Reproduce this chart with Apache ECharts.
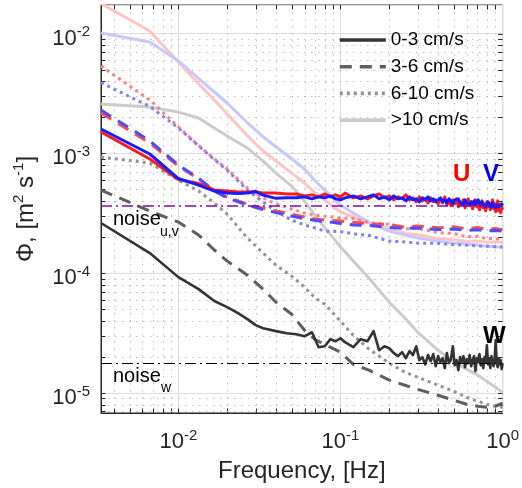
<!DOCTYPE html>
<html>
<head>
<meta charset="utf-8">
<script src="https://cdn.jsdelivr.net/npm/echarts@6/dist/echarts.min.js"></script>
<style>
  html, body { margin: 0; padding: 0; background: #ffffff; }
  #chart { width: 522px; height: 488px; }
</style>
</head>
<body>
<div id="chart"></div>
<script>
// Velocity spectra binned by current speed. Frequencies are bin indices times DF.
const DF = 1 / 300;           // frequency resolution [Hz]
const X_MIN = 1 / 300, X_MAX = 1;
const Y_MIN = 6.8e-6, Y_MAX = 1.73e-2;

// bins used for the smooth (averaged) spectra
const binsCoarse = [1, 2, 3, 4, 5, 6, 8, 10, 12, 15, 18, 21, 24, 30, 36, 45, 60, 75, 90, 120, 150, 180, 210, 240, 270, 300];
// bins used for the slow-flow spectra, which stay noisy up to 1 Hz
const binsFine = [1, 2, 3, 4, 5, 6, 7, 8, 9, 10, 12, 14, 16, 18, 20, 22, 24, 26, 28, 30,
  32, 36, 40, 44, 48, 52, 56, 60, 64, 68, 72, 76, 80, 84, 88, 92, 96, 100, 104, 108,
  112, 116, 120, 124, 128, 132, 136, 140, 144, 148, 152, 156, 160, 164, 168, 172, 176, 180, 184, 188,
  192, 196, 200, 204, 208, 212, 216, 220, 224, 228, 232, 236, 240, 244, 248, 252, 256, 260, 264, 268,
  272, 276, 280, 284, 288, 292, 296, 300];

// 0-3 cm/s (fine bins)
const u03 = [1.507e-3, 8.96e-4, 6.04e-4, 5.59e-4, 4.95e-4, 4.84e-4, 4.76e-4, 4.76e-4, 4.76e-4, 4.66e-4,
  4.66e-4, 4.58e-4, 4.58e-4, 4.41e-4, 4.50e-4, 4.33e-4, 4.58e-4, 4.33e-4, 4.50e-4, 4.33e-4,
  4.66e-4, 4.25e-4, 4.41e-4, 4.17e-4, 4.41e-4, 4.58e-4, 4.25e-4, 4.41e-4, 4.09e-4, 4.33e-4,
  4.17e-4, 4.50e-4, 4.09e-4, 4.25e-4, 3.94e-4, 4.33e-4, 4.01e-4, 4.17e-4, 3.86e-4, 4.25e-4,
  3.94e-4, 4.09e-4, 3.79e-4, 4.17e-4, 3.86e-4, 4.33e-4, 3.72e-4, 4.01e-4, 3.65e-4, 4.09e-4,
  3.79e-4, 4.17e-4, 3.58e-4, 3.94e-4, 3.72e-4, 4.09e-4, 3.51e-4, 3.86e-4, 4.17e-4, 3.65e-4,
  3.94e-4, 3.44e-4, 3.79e-4, 4.09e-4, 3.58e-4, 3.86e-4, 3.38e-4, 3.72e-4, 4.01e-4, 3.51e-4,
  3.79e-4, 3.31e-4, 3.94e-4, 3.58e-4, 3.86e-4, 3.38e-4, 3.72e-4, 4.09e-4, 3.44e-4, 3.79e-4,
  3.25e-4, 3.65e-4, 4.01e-4, 3.31e-4, 3.72e-4, 3.19e-4, 3.58e-4, 3.38e-4];
const v03 = [1.596e-3, 9.87e-4, 6.16e-4, 5.43e-4, 4.84e-4, 4.66e-4, 4.62e-4, 4.66e-4, 4.80e-4, 4.48e-4,
  4.21e-4, 4.25e-4, 4.25e-4, 4.33e-4, 4.17e-4, 4.33e-4, 4.25e-4, 4.41e-4, 4.17e-4, 4.09e-4,
  4.25e-4, 4.41e-4, 4.17e-4, 4.33e-4, 4.50e-4, 4.17e-4, 4.33e-4, 4.09e-4, 4.41e-4, 4.17e-4,
  4.25e-4, 4.01e-4, 4.33e-4, 4.09e-4, 4.17e-4, 3.94e-4, 4.25e-4, 4.09e-4, 4.33e-4, 4.01e-4,
  4.17e-4, 3.94e-4, 4.09e-4, 4.25e-4, 3.94e-4, 4.09e-4, 3.86e-4, 4.17e-4, 4.01e-4, 3.79e-4,
  4.09e-4, 3.94e-4, 4.17e-4, 3.86e-4, 4.01e-4, 3.79e-4, 4.09e-4, 3.86e-4, 4.01e-4, 3.72e-4,
  3.94e-4, 3.79e-4, 4.01e-4, 3.72e-4, 3.86e-4, 4.09e-4, 3.79e-4, 3.65e-4, 3.94e-4, 3.72e-4,
  3.86e-4, 3.58e-4, 3.79e-4, 3.94e-4, 3.65e-4, 3.79e-4, 3.58e-4, 3.86e-4, 3.65e-4, 3.79e-4,
  3.51e-4, 3.72e-4, 3.86e-4, 3.58e-4, 3.72e-4, 3.51e-4, 3.79e-4, 3.65e-4];
const w03 = [2.62e-4, 1.47e-4, 9.26e-5, 7.35e-5, 5.85e-5, 5.20e-5, 4.63e-5, 4.13e-5, 3.68e-5, 3.47e-5,
  3.28e-5, 3.15e-5, 3.09e-5, 2.97e-5, 3.21e-5, 2.41e-5, 2.45e-5, 2.81e-5, 2.70e-5, 2.86e-5,
  2.65e-5, 2.41e-5, 2.81e-5, 2.70e-5, 3.28e-5, 2.27e-5, 2.45e-5, 2.36e-5, 2.15e-5, 2.03e-5,
  2.19e-5, 1.95e-5, 2.23e-5, 2.07e-5, 2.45e-5, 1.88e-5, 1.99e-5, 1.73e-5, 2.07e-5, 1.84e-5,
  2.11e-5, 1.67e-5, 2.03e-5, 1.81e-5, 1.95e-5, 1.61e-5, 2.15e-5, 1.77e-5, 1.91e-5, 2.45e-5,
  1.70e-5, 1.88e-5, 1.55e-5, 1.99e-5, 1.81e-5, 2.03e-5, 1.64e-5, 1.91e-5, 1.77e-5, 2.07e-5,
  1.67e-5, 1.88e-5, 2.03e-5, 1.52e-5, 1.95e-5, 1.81e-5, 2.11e-5, 1.70e-5, 1.91e-5, 1.61e-5,
  1.99e-5, 1.81e-5, 2.50e-5, 1.73e-5, 1.95e-5, 1.61e-5, 2.03e-5, 1.81e-5, 1.67e-5, 1.91e-5,
  2.76e-5, 1.77e-5, 1.64e-5, 1.95e-5, 1.73e-5, 1.88e-5, 1.58e-5, 1.77e-5];

// 3-6 cm/s (coarse bins)
const u36 = [2.17e-3, 1.22e-3, 7.84e-4, 6.10e-4, 4.85e-4, 4.31e-4, 3.77e-4, 3.49e-4, 3.30e-4, 3.11e-4, 2.94e-4, 2.83e-4, 2.77e-4,
  2.72e-4, 2.66e-4, 2.58e-4, 2.55e-4, 2.42e-4, 2.47e-4, 2.39e-4, 2.44e-4, 2.34e-4, 2.40e-4, 2.31e-4, 2.36e-4, 2.30e-4];
const v36 = [2.30e-3, 1.27e-3, 7.99e-4, 6.20e-4, 4.85e-4, 4.25e-4, 3.70e-4, 3.40e-4, 3.20e-4, 3.00e-4, 2.85e-4, 2.75e-4, 2.70e-4,
  2.60e-4, 2.52e-4, 2.50e-4, 2.40e-4, 2.36e-4, 2.38e-4, 2.31e-4, 2.33e-4, 2.28e-4, 2.30e-4, 2.25e-4, 2.27e-4, 2.24e-4];
const w36 = [4.94e-4, 3.30e-4, 2.67e-4, 2.08e-4, 1.56e-4, 1.26e-4, 9.62e-5, 7.35e-5, 5.72e-5, 4.54e-5, 3.34e-5, 2.78e-5, 2.54e-5,
  2.19e-5, 1.73e-5, 1.55e-5, 1.28e-5, 1.16e-5, 1.07e-5, 9.57e-6, 8.69e-6, 8.04e-6, 7.74e-6, 7.59e-6, 7.74e-6, 8.20e-6];

// 6-10 cm/s (coarse bins)
const u610 = [5.36e-3, 2.79e-3, 1.66e-3, 1.164e-3, 9.00e-4, 7.40e-4, 5.13e-4, 4.24e-4, 3.78e-4, 3.43e-4, 3.17e-4, 3.05e-4, 2.99e-4,
  2.88e-4, 2.86e-4, 2.64e-4, 2.55e-4, 2.34e-4, 2.36e-4, 2.18e-4, 2.14e-4, 2.01e-4, 2.03e-4, 1.94e-4, 1.95e-4, 1.88e-4];
const v610 = [3.89e-3, 2.46e-3, 1.63e-3, 1.15e-3, 8.88e-4, 7.24e-4, 4.93e-4, 3.92e-4, 3.30e-4, 2.77e-4, 2.52e-4, 2.38e-4, 2.24e-4,
  2.22e-4, 2.13e-4, 2.06e-4, 1.85e-4, 1.82e-4, 1.78e-4, 1.77e-4, 1.73e-4, 1.71e-4, 1.69e-4, 1.68e-4, 1.66e-4, 1.65e-4];
const w610 = [9.31e-4, 8.30e-4, 5.98e-4, 4.84e-4, 3.85e-4, 3.11e-4, 1.96e-4, 1.47e-4, 1.166e-4, 9.44e-5, 7.64e-5, 6.18e-5, 5.51e-5,
  3.97e-5, 3.03e-5, 2.32e-5, 1.77e-5, 1.49e-5, 1.35e-5, 1.16e-5, 1.03e-5, 9.20e-6, 8.53e-6, 8.04e-6, 7.74e-6, 7.59e-6];

// >10 cm/s (coarse bins)
const ugt10 = [1.78e-2, 1.05e-2, 5.79e-3, 3.81e-3, 2.79e-3, 2.13e-3, 1.40e-3, 1.045e-3, 8.62e-4, 6.84e-4, 5.65e-4, 4.66e-4, 4.07e-4,
  3.24e-4, 2.94e-4, 2.62e-4, 2.35e-4, 2.14e-4, 2.09e-4, 1.94e-4, 1.90e-4, 1.84e-4, 1.85e-4, 1.81e-4, 1.83e-4, 1.80e-4];
const vgt10 = [1.01e-2, 8.51e-3, 5.90e-3, 4.22e-3, 3.25e-3, 2.63e-3, 1.80e-3, 1.374e-3, 1.135e-3, 9.02e-4, 7.40e-4, 5.88e-4, 4.93e-4,
  3.70e-4, 3.17e-4, 2.67e-4, 2.24e-4, 2.08e-4, 1.96e-4, 1.85e-4, 1.78e-4, 1.75e-4, 1.71e-4, 1.68e-4, 1.66e-4, 1.65e-4];
const wgt10 = [2.58e-3, 2.44e-3, 2.21e-3, 1.97e-3, 1.63e-3, 1.395e-3, 1.107e-3, 8.62e-4, 6.84e-4, 5.33e-4, 3.99e-4, 3.01e-4, 2.40e-4,
  1.66e-4, 1.26e-4, 9.08e-5, 5.72e-5, 4.21e-5, 3.21e-5, 2.27e-5, 1.81e-5, 1.58e-5, 1.41e-5, 1.25e-5, 1.12e-5, 1.01e-5];

// instrument noise floors
const noiseUV = 3.63e-4;
const noiseW = 1.76e-5;

const speedNames = ['0-3 cm/s', '3-6 cm/s', '6-10 cm/s', '>10 cm/s'];

// major and minor tick positions (decades and their 2..9 multiples)
const xMajor = [0.01, 0.1];
const yMajor = [1e-5, 1e-4, 1e-3, 1e-2];
const xMinor = [], yMinor = [];
[1e-3, 1e-2, 1e-1].forEach(d => { for (let m = 2; m <= 9; m++) { const v = m * d; if (v > X_MIN && v < X_MAX) xMinor.push(v); } });
[1e-6, 1e-5, 1e-4, 1e-3, 1e-2].forEach(d => { for (let m = 2; m <= 9; m++) { const v = m * d; if (v > Y_MIN && v < Y_MAX) yMinor.push(v); } });

const FONT = '"Liberation Sans", Arial, Helvetica, sans-serif';
const AX = '#262626';

const toPairs = (bins, vals) => bins.map((k, i) => [k * DF, vals[i]]);

const DASH = [12, 8];
const DOT = [3, 4];

function spec(name, bins, vals, color, width, type, z) {
  return {
    name, type: 'line', data: toPairs(bins, vals),
    symbol: 'none', showSymbol: false, silent: true, z,
    lineStyle: { color, width, type, cap: 'butt', join: 'round' },
    itemStyle: { color },
    emphasis: { disabled: true }
  };
}

const series = [
  // fastest flow first so slower ones sit on top
  spec('>10 cm/s', binsCoarse, wgt10, '#cccccc', 3, 'solid', 2),
  spec('U >10', binsCoarse, ugt10, '#ffc4c4', 3, 'solid', 2),
  spec('V >10', binsCoarse, vgt10, '#c8c8ff', 3, 'solid', 2),
  spec('6-10 cm/s', binsCoarse, w610, '#939393', 3, DOT, 3),
  spec('U 6-10', binsCoarse, u610, '#ff8080', 3, DOT, 3),
  spec('V 6-10', binsCoarse, v610, '#8080ff', 3, DOT, 3),
  spec('3-6 cm/s', binsCoarse, w36, '#5f5f5f', 3, DASH, 4),
  spec('U 3-6', binsCoarse, u36, '#ff4d4d', 3, DASH, 4),
  spec('V 3-6', binsCoarse, v36, '#4d4dff', 3, DASH, 4),
  spec('0-3 cm/s', binsFine, w03, '#333333', 2.6, 'solid', 5),
  spec('U 0-3', binsFine, u03, '#ff1a1a', 3, 'solid', 5),
  spec('V 0-3', binsFine, v03, '#1a1aff', 3, 'solid', 5),
  {
    name: 'noise uv', type: 'line', symbol: 'none', silent: true, z: 8,
    data: [[X_MIN, noiseUV], [X_MAX, noiseUV]],
    lineStyle: { color: '#7a0fa8', width: 1.6, type: [11, 4, 2, 4] }
  },
  {
    name: 'noise w', type: 'line', symbol: 'none', silent: true, z: 8,
    data: [[X_MIN, noiseW], [X_MAX, noiseW]],
    lineStyle: { color: '#000000', width: 1.2, type: [11, 4, 2, 4] }
  },
  {
    // dotted minor grid and inward tick marks on all four sides
    type: 'custom', silent: true, z: 1, clip: false,
    data: [[0.01, 1e-4]],
    renderItem: function (params, api) {
      const lb = api.coord([X_MIN, Y_MIN]);
      const rt = api.coord([X_MAX, Y_MAX]);
      const l = lb[0], b = lb[1], r = rt[0], t = rt[1];
      const TL = 4.5;
      const ch = [];
      const grid = { stroke: '#c2c2c2', lineWidth: 1, lineDash: [1.5, 5.5] };
      const tick = { stroke: AX, lineWidth: 1 };
      const seg = (x1, y1, x2, y2, style) => ch.push({ type: 'line', shape: { x1, y1, x2, y2 }, style });
      xMinor.forEach(v => {
        const x = Math.round(api.coord([v, Y_MIN])[0]) + 0.5;
        seg(x, t, x, b, grid);
        seg(x, b, x, b - TL, tick); seg(x, t, x, t + TL, tick);
      });
      yMinor.forEach(v => {
        const y = Math.round(api.coord([X_MIN, v])[1]) + 0.5;
        seg(l, y, r, y, grid);
        seg(l, y, l + TL, y, tick); seg(r, y, r - TL, y, tick);
      });
      xMajor.forEach(v => {
        const x = Math.round(api.coord([v, Y_MIN])[0]) + 0.5;
        seg(x, b, x, b - TL, tick); seg(x, t, x, t + TL, tick);
      });
      yMajor.forEach(v => {
        const y = Math.round(api.coord([X_MIN, v])[1]) + 0.5;
        seg(l, y, l + TL, y, tick); seg(r, y, r - TL, y, tick);
      });
      return { type: 'group', children: ch };
    }
  }
];

function powLabel(v) {
  const e = Math.log10(v);
  const r = Math.round(e);
  if (Math.abs(e - r) > 1e-6) return '';
  return '{b|10}{s|' + r + '}';
}
const tickRich = {
  b: { fontSize: 22, lineHeight: 28, color: AX, fontFamily: FONT },
  s: { fontSize: 15, lineHeight: 15, color: AX, fontFamily: FONT, verticalAlign: 'top' }
};

const option = {
  animation: false,
  backgroundColor: '#ffffff',
  grid: { left: 101, right: 13, top: 5, bottom: 75, show: true, borderColor: AX, borderWidth: 1, backgroundColor: 'transparent' },
  legend: {
    data: speedNames, orient: 'vertical', left: 333, top: 25,
    itemWidth: 46, itemHeight: 20, itemGap: 6.7, selectedMode: false,
    itemStyle: { opacity: 0, borderWidth: 0 },
    lineStyle: { width: 3.6 },
    textStyle: { fontSize: 19, color: '#000000', fontFamily: FONT, lineHeight: 20 }
  },
  xAxis: {
    type: 'log', logBase: 10, min: X_MIN, max: X_MAX,
    name: 'Frequency, [Hz]', nameLocation: 'middle', nameGap: 46,
    nameTextStyle: { fontSize: 24, color: AX, fontFamily: FONT },
    axisLine: { show: true, lineStyle: { color: AX, width: 1 } },
    axisTick: { show: false },
    axisLabel: { formatter: powLabel, margin: 15, rich: tickRich, showMinLabel: true, showMaxLabel: true },
    splitLine: { show: true, lineStyle: { color: '#dedede', width: 1 } },
    minorSplitLine: { show: false }
  },
  yAxis: {
    type: 'log', logBase: 10, min: Y_MIN, max: Y_MAX,
    name: 'Φ, [m{s|2} s{s|-1}]', nameLocation: 'middle', nameGap: 56, nameRotate: 90,
    nameTextStyle: {
      fontSize: 24, color: AX, fontFamily: FONT, lineHeight: 30,
      rich: { s: { fontSize: 15, lineHeight: 15, color: AX, fontFamily: FONT, verticalAlign: 'top' } }
    },
    axisLine: { show: true, lineStyle: { color: AX, width: 1 } },
    axisTick: { show: false },
    axisLabel: { formatter: powLabel, margin: 11, rich: tickRich, padding: [10, 0, 0, 0] },
    splitLine: { show: true, lineStyle: { color: '#dedede', width: 1 } }
  },
  graphic: [
    { type: 'text', silent: true, z: 20, style: { text: 'U', x: 453, y: 174.5, font: 'bold 24px ' + FONT, fill: '#ff0000', verticalAlign: 'middle' } },
    { type: 'text', silent: true, z: 20, style: { text: 'V', x: 483, y: 174.5, font: 'bold 24px ' + FONT, fill: '#0000ff', verticalAlign: 'middle' } },
    { type: 'text', silent: true, z: 20, style: { text: 'W', x: 483, y: 336.5, font: 'bold 24px ' + FONT, fill: '#000000', verticalAlign: 'middle' } },
    { type: 'text', silent: true, z: 20, style: { text: 'noise', x: 113, y: 219.5, font: '20px ' + FONT, fill: '#000000', verticalAlign: 'middle' } },
    { type: 'text', silent: true, z: 20, style: { text: 'u,v', x: 160, y: 232, font: '14px ' + FONT, fill: '#000000', verticalAlign: 'middle' } },
    { type: 'text', silent: true, z: 20, style: { text: 'noise', x: 113, y: 376, font: '20px ' + FONT, fill: '#000000', verticalAlign: 'middle' } },
    { type: 'text', silent: true, z: 20, style: { text: 'w', x: 161, y: 388, font: '14px ' + FONT, fill: '#000000', verticalAlign: 'middle' } }
  ],
  series
};

const chart = echarts.init(document.getElementById('chart'), null, { renderer: 'canvas' });
chart.setOption(option);
</script>
</body>
</html>
